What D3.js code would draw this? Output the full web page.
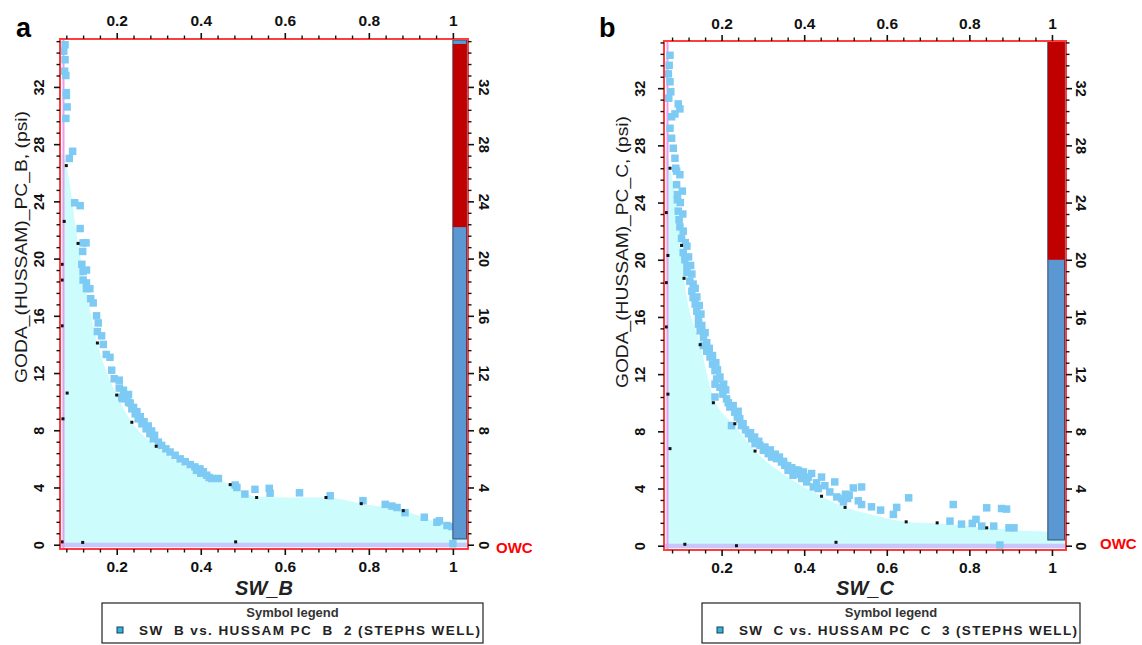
<!DOCTYPE html>
<html>
<head>
<meta charset="utf-8">
<script src="https://cdn.jsdelivr.net/npm/d3@7"></script>
<style>
  body { margin: 0; background: #fff; }
  svg text { font-family: "Liberation Sans", Arial, sans-serif; }
</style>
</head>
<body>
<svg id="chart" width="1142" height="645"></svg>
<script>
// ---- data ----
// panel a : SW_B vs PC_B (blue squares)
const swB = [0.077,0.074,0.077,0.076,0.079,0.080,0.080,0.082,0.079,0.095,0.087,
  0.100,0.113,0.113,0.120,0.127,0.119,0.117,0.128,0.120,0.120,0.128,0.128,0.136,0.138,0.144,
  0.152,0.156,0.154,0.164,0.168,0.175,0.184,0.188,0.194,0.206,0.206,0.216,0.228,0.212,0.224,
  0.214,0.228,0.232,0.236,0.240,0.244,0.248,0.251,0.256,0.260,0.265,0.270,0.275,0.279,0.283,
  0.287,0.290,0.299,0.307,0.317,0.327,0.339,0.351,0.363,0.375,0.386,0.390,0.398,0.400,0.406,
  0.414,0.420,0.426,0.442,0.482,0.486,0.505,0.529,0.563,0.565,0.635,0.708,0.786,0.839,0.855,
  0.867,0.886,0.932,0.962,0.968,0.986,0.998,1.000];
const pcB = [34.95,34.5,33.9,33.1,32.8,31.6,31.4,30.6,29.8,27.5,27.0,
  23.9,23.7,22.1,21.1,21.1,20.5,19.6,19.2,19.1,18.5,18.3,17.9,17.9,17.2,16.9,
  16.0,15.5,14.9,14.6,14.0,13.3,13.1,12.2,11.6,11.5,10.95,10.8,10.5,10.3,10.4,
  10.2,9.95,9.9,9.5,9.6,9.15,9.3,8.8,8.95,8.45,8.6,8.1,8.3,7.76,7.95,
  7.4,7.65,7.17,6.94,6.7,6.48,6.25,6.0,5.8,5.6,5.44,5.2,5.3,5.0,5.1,
  4.86,4.7,4.63,4.63,4.17,4.0,3.54,3.87,3.94,3.6,3.63,3.42,3.08,2.82,2.7,
  2.6,2.24,1.92,1.57,1.67,1.34,1.27,0.07];
// panel a : model points (black)
const swBModel = [0.080,0.108,0.154,0.200,0.236,0.294,0.470,0.533,0.698,0.782,0.882,
  0.075,0.070,0.070,0.070,0.082,0.072,0.070,0.119,0.483];
const pcBModel = [26.5,21.06,14.1,10.46,8.56,6.88,4.2,3.3,3.3,2.87,2.38,
  22.6,19.6,18.5,15.3,10.6,8.8,0.2,0.16,0.2];
// panel a : shaded curve
const swBFill = [0.065,0.075,0.080,0.108,0.154,0.200,0.236,0.294,0.380,0.470,0.533,0.600,0.698,0.782,0.882,0.950,1.000,1.036];
const pcBFill = [27.5,27.0,26.5,21.06,14.1,10.46,8.56,6.88,5.2,4.2,3.35,3.3,3.3,2.87,2.38,1.7,1.2,1.0];

// panel b : SW_C vs PC_C (blue squares)
const swC = [0.075,0.073,0.071,0.075,0.077,0.072,0.095,0.099,0.087,0.079,0.075,0.079,0.083,0.087,
  0.089,0.091,0.099,0.091,0.093,0.093,0.095,0.106,0.097,0.099,0.107,0.103,0.116,0.107,0.111,
  0.116,0.116,0.123,0.131,0.128,0.131,0.136,0.140,0.144,0.144,0.148,0.156,0.156,0.164,0.172,
  0.178,0.184,0.188,0.184,0.196,0.203,0.184,0.212,0.216,0.220,0.232,0.224,0.244,0.252,0.265,
  0.273,0.281,0.293,0.301,0.313,0.321,0.333,0.345,0.353,0.361,0.373,0.386,0.398,0.394,0.406,
  0.418,0.422,0.434,0.442,0.462,0.474,0.479,0.491,0.495,0.509,0.519,0.539,0.531,0.539,0.563,
  0.585,0.616,0.624,0.653,0.753,0.761,0.781,0.807,0.816,0.830,0.842,0.859,0.878,0.890,0.896,
  0.908,0.874,
  0.105,0.100,0.112,0.120,0.125,0.128,0.136,0.140,0.146,0.150,0.152,0.160,0.164,0.170,0.178,
  0.186,0.190,0.196,0.205,0.210,0.228,0.240,0.238,0.248,0.258,0.270,0.280,0.290,0.305,0.318,
  0.330,0.340,0.350,0.360,0.370,0.380,0.390,0.410,0.430,0.450,0.500,0.505];
const pcC = [34.3,33.6,33.0,32.45,31.75,31.3,30.9,30.55,30.2,30.0,29.2,28.5,27.8,27.1,
  26.4,26.2,25.95,25.25,24.56,24.2,23.4,23.2,22.8,22.3,22.0,21.5,20.95,20.5,20.0,
  19.56,19.1,18.5,18.3,17.8,17.35,16.9,16.4,15.96,15.5,15.03,14.56,14.0,13.6,13.2,
  12.7,12.24,11.66,11.3,11.08,10.6,10.4,10.27,10.0,9.7,9.34,8.4,8.88,8.53,7.83,
  7.48,7.14,7.02,6.67,6.44,6.2,6.09,5.85,5.62,5.27,4.93,5.27,5.16,4.7,4.46,
  5.05,4.11,4.0,4.8,3.76,4.46,3.41,3.3,3.07,3.53,4.04,4.11,3.14,2.88,2.72,
  2.49,2.19,2.68,3.35,1.72,2.88,1.51,1.56,1.84,1.37,2.65,1.37,2.6,2.56,1.25,
  1.25,0.05,
  24.8,24.0,21.2,20.2,19.6,19.0,18.0,17.4,16.8,16.2,15.4,14.9,14.2,13.8,13.3,
  12.8,12.3,11.8,11.3,10.9,9.8,9.4,9.0,8.4,8.1,7.9,7.6,7.3,6.9,6.7,
  6.4,6.2,5.9,5.6,5.45,5.3,5.0,4.8,4.4,4.2,3.6,3.3];
// panel b : model points (black)
const swCModel = [0.075,0.103,0.109,0.148,0.180,0.232,0.281,0.442,0.499,0.647,0.722,0.842,
  0.066,0.070,0.066,0.066,0.070,0.075,0.111,0.236,0.477];
const pcCModel = [26.4,21.0,18.7,14.06,10.0,8.53,6.62,3.46,2.68,1.67,1.6,1.25,
  23.3,20.3,18.4,15.3,10.6,6.79,0.1,0.0,0.24];
// panel b : shaded curve
const swCFill = [0.061,0.068,0.075,0.103,0.109,0.148,0.180,0.232,0.281,0.350,0.442,0.499,0.560,0.647,0.722,0.842,0.930,1.000,1.034];
const pcCFill = [28.5,27.5,26.4,21.0,18.7,14.06,10.4,8.4,6.62,5.0,3.46,2.68,2.2,1.67,1.55,1.25,1.05,0.98,0.9];

// zone bar (OWC and transition)
const owcLevel = 0.4;
const contactB = 22.2;
const contactC = 20.0;
const xTicks = [0.2, 0.4, 0.6, 0.8, 1];
const yTicks = [0, 4, 8, 12, 16, 20, 24, 28, 32];

const svg = d3.select('#chart');
const fmt = d3.format('~g');
const zip = (a, b) => a.map((v, i) => [v, b[i]]);

function drawPanel(p) {
    const { frame } = p;
    const x = d3.scaleLinear().domain(p.xDomain).range([frame.x0, frame.x1]);
    const y = d3.scaleLinear().domain(p.yDomain).range([frame.y1, frame.y0]);
    const g = svg.append('g');

    // shaded region under the model curve
    const area = d3.area()
        .x(d => x(d[0]))
        .y0(y(0))
        .y1(d => y(d[1]))
        .curve(d3.curveMonotoneX);
    g.append('path')
        .datum(zip(p.fillX, p.fillY))
        .attr('d', area)
        .attr('fill', '#cdfcfc');

    // lavender zero band and pink inner edge
    g.append('rect')
        .attr('x', frame.x0).attr('width', frame.x1 - frame.x0)
        .attr('y', y(0) - 2).attr('height', 4.5)
        .attr('fill', '#c9c6fb');
    g.append('line')
        .attr('x1', frame.x0 + 3.5).attr('x2', frame.x0 + 3.5)
        .attr('y1', frame.y0).attr('y2', frame.y1)
        .attr('stroke', '#ee9cf0').attr('stroke-width', 2);

    // measured points
    const s = 7.5;
    g.selectAll('rect.pt')
        .data(zip(p.ptX, p.ptY))
        .enter().append('rect')
        .attr('class', 'pt')
        .attr('x', d => x(d[0]) - s / 2)
        .attr('y', d => y(d[1]) - s / 2)
        .attr('width', s).attr('height', s)
        .attr('fill', '#7dcbf4');

    // model points
    g.selectAll('rect.md')
        .data(zip(p.mdX, p.mdY))
        .enter().append('rect')
        .attr('class', 'md')
        .attr('x', d => x(d[0]) - 1.5)
        .attr('y', d => y(d[1]) - 1.5)
        .attr('width', 3).attr('height', 3)
        .attr('fill', '#111');

    // zone bar
    const bx = x(p.barStart), bw = x(p.xDomain[1]) - 1.5 - bx;
    g.append('rect')
        .attr('x', bx).attr('width', bw)
        .attr('y', y(p.yDomain[1]) + 1).attr('height', y(owcLevel) - y(p.yDomain[1]) - 1)
        .attr('fill', '#5b97d0').attr('stroke', '#2f4f73').attr('stroke-width', 1);
    g.append('rect')
        .attr('x', bx).attr('width', bw)
        .attr('y', y(p.redTop)).attr('height', y(p.contact) - y(p.redTop))
        .attr('fill', '#c00000');

    // frame
    g.append('rect')
        .attr('x', frame.x0).attr('y', frame.y0)
        .attr('width', frame.x1 - frame.x0).attr('height', frame.y1 - frame.y0)
        .attr('fill', 'none').attr('stroke', '#ff3d3d').attr('stroke-width', 2);

    // axes: major + minor ticks on all four sides
    const xMinor = d3.range(0.08, 1.001, 0.04).filter(v => Math.abs(v * 5 - Math.round(v * 5)) > 1e-6);
    const yMinor = d3.range(0, 35.3, 0.8).filter(v => Math.abs(v / 4 - Math.round(v / 4)) > 1e-6);

    const axes = [
        { ax: d3.axisTop(x).tickValues(xTicks), t: `translate(0,${frame.y0})`, side: 'top' },
        { ax: d3.axisBottom(x).tickValues(xTicks), t: `translate(0,${frame.y1})`, side: 'bottom' },
        { ax: d3.axisLeft(y).tickValues(yTicks), t: `translate(${frame.x0},0)`, side: 'left' },
        { ax: d3.axisRight(y).tickValues(yTicks), t: `translate(${frame.x1},0)`, side: 'right' }
    ];
    axes.forEach(a => {
        const ag = g.append('g')
            .attr('transform', a.t)
            .call(a.ax.tickSize(6).tickFormat(fmt));
        ag.select('.domain').remove();
        ag.selectAll('line').attr('stroke', '#111').attr('stroke-width', 1.6);
        const txt = ag.selectAll('text')
            .attr('fill', '#111')
            .attr('font-weight', 'bold')
            .attr('font-size', 15.5)
            .attr('dy', null);
        if (a.side === 'top') txt.attr('y', -p.topOff);
        if (a.side === 'bottom') txt.attr('y', p.bottomOff);
        if (a.side === 'left') txt.attr('x', 0).attr('text-anchor', 'middle').attr('font-size', 14.5)
            .attr('transform', `translate(${-p.leftOff},0) rotate(-90)`);
        if (a.side === 'right') txt.attr('x', 0).attr('text-anchor', 'middle').attr('font-size', 14.5)
            .attr('transform', `translate(${p.rightOff},0) rotate(90)`);
    });

    const minors = [
        { ax: d3.axisTop(x).tickValues(xMinor), t: `translate(0,${frame.y0})` },
        { ax: d3.axisBottom(x).tickValues(xMinor), t: `translate(0,${frame.y1})` },
        { ax: d3.axisLeft(y).tickValues(yMinor), t: `translate(${frame.x0},0)` },
        { ax: d3.axisRight(y).tickValues(yMinor), t: `translate(${frame.x1},0)` }
    ];
    minors.forEach(a => {
        const ag = g.append('g')
            .attr('transform', a.t)
            .call(a.ax.tickSize(3.5).tickFormat(''));
        ag.select('.domain').remove();
        ag.selectAll('line').attr('stroke', '#111').attr('stroke-width', 1.4);
    });

    // titles
    g.append('text')
        .attr('x', p.letter[0]).attr('y', p.letter[1])
        .attr('font-size', 27).attr('font-weight', 'bold')
        .text(p.letterText);
    g.append('text')
        .attr('transform', `translate(${p.yTitle[0]},${p.yTitle[1]}) rotate(-90)`)
        .attr('text-anchor', 'middle')
        .attr('font-size', 17).attr('fill', '#1a1a1a')
        .attr('textLength', 272).attr('lengthAdjust', 'spacingAndGlyphs')
        .text(p.yTitleText);
    g.append('text')
        .attr('x', p.xTitle[0]).attr('y', p.xTitle[1])
        .attr('text-anchor', 'middle')
        .attr('font-size', 20).attr('font-weight', 'bold').attr('font-style', 'italic')
        .attr('fill', '#222')
        .text(p.xTitleText);
    g.append('text')
        .attr('x', p.owc[0]).attr('y', p.owc[1])
        .attr('font-size', 15).attr('font-weight', 'bold')
        .attr('fill', '#ff0000')
        .text('OWC');

    // symbol legend
    const lg = p.legend;
    g.append('rect')
        .attr('x', lg.x0).attr('y', lg.y0)
        .attr('width', lg.x1 - lg.x0).attr('height', lg.y1 - lg.y0)
        .attr('fill', '#fff').attr('stroke', '#222').attr('stroke-width', 1.2);
    g.append('text')
        .attr('x', (lg.x0 + lg.x1) / 2).attr('y', lg.y0 + 14)
        .attr('text-anchor', 'middle')
        .attr('font-size', 13).attr('font-weight', 'bold').attr('fill', '#333')
        .text('Symbol legend');
    g.append('rect')
        .attr('x', lg.x0 + 15).attr('y', lg.y0 + 24)
        .attr('width', 6).attr('height', 6)
        .attr('fill', '#35b4d6').attr('stroke', '#1a3c5a').attr('stroke-width', 1);
    g.append('text')
        .attr('x', lg.x0 + 37).attr('y', lg.y0 + 32)
        .attr('font-size', 13.5).attr('font-weight', 'bold').attr('fill', '#222')
        .style('white-space', 'pre')
        .attr('textLength', lg.x1 - lg.x0 - 40).attr('lengthAdjust', 'spacing')
        .text(p.legendText);
}

drawPanel({
    frame: { x0: 60, x1: 468, y0: 39, y1: 549 },
    xDomain: [0.065, 1.036], yDomain: [-0.3, 35.35],
    ptX: swB, ptY: pcB, mdX: swBModel, mdY: pcBModel, fillX: swBFill, fillY: pcBFill,
    barStart: 1.0, contact: contactB, redTop: 35.0,
    topOff: 13, bottomOff: 23, leftOff: 16, rightOff: 11,
    letter: [16, 37], letterText: 'a',
    yTitle: [27, 247], yTitleText: 'GODA_(HUSSAM)_PC_B, (psi)',
    xTitle: [264, 595], xTitleText: 'SW_B',
    owc: [496, 553],
    legend: { x0: 102, x1: 483, y0: 603, y1: 643 },
    legendText: 'SW  B vs. HUSSAM PC  B  2 (STEPHS WELL)'
});

drawPanel({
    frame: { x0: 664, x1: 1066, y0: 41, y1: 550 },
    xDomain: [0.0605, 1.034], yDomain: [-0.3, 35.3],
    ptX: swC, ptY: pcC, mdX: swCModel, mdY: pcCModel, fillX: swCFill, fillY: pcCFill,
    barStart: 0.99, contact: contactC, redTop: 35.3,
    topOff: 12, bottomOff: 23, leftOff: 19, rightOff: 10,
    letter: [599, 37], letterText: 'b',
    yTitle: [628, 252], yTitleText: 'GODA_(HUSSAM)_PC_C, (psi)',
    xTitle: [865, 595], xTitleText: 'SW_C',
    owc: [1100, 549],
    legend: { x0: 702, x1: 1080, y0: 603, y1: 643 },
    legendText: 'SW  C vs. HUSSAM PC  C  3 (STEPHS WELL)'
});
</script>
</body>
</html>
